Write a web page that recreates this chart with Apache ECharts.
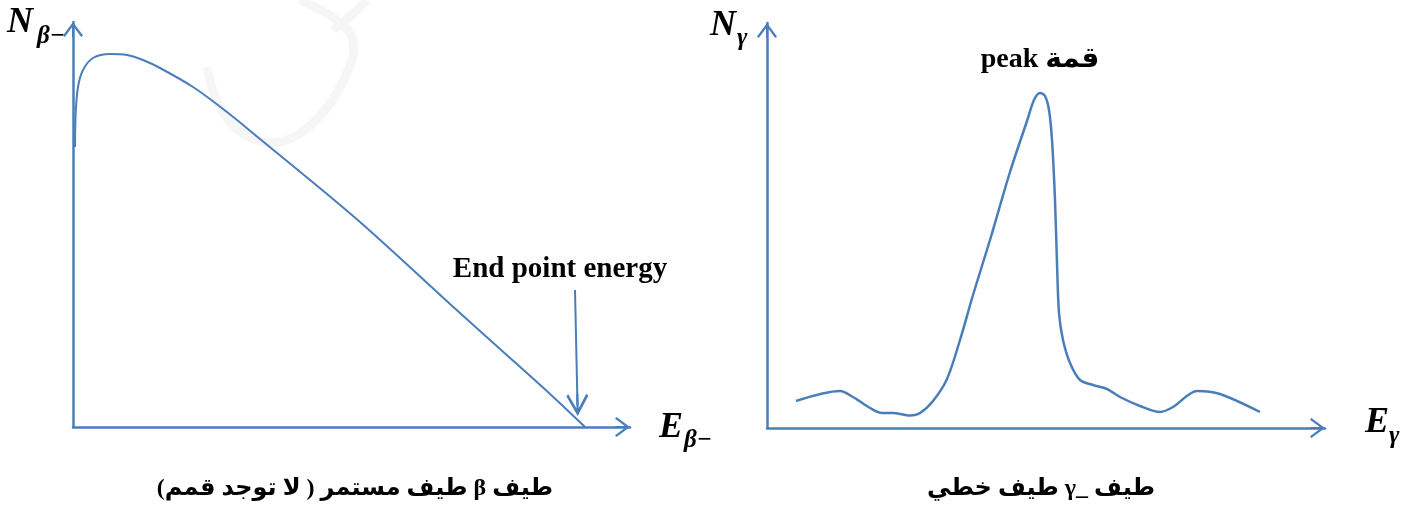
<!DOCTYPE html>
<html><head><meta charset="utf-8">
<script src="https://cdn.jsdelivr.net/npm/echarts@6/dist/echarts.min.js"></script>
<style>html,body{margin:0;padding:0;background:#fff}#c{width:1422px;height:511px}</style>
</head><body><div id="c"></div>
<script>
// Beta spectrum (relative units: energy axis spans 0..557, counts axis 0..405)
const betaEnergy = [2, 2.7, 5, 10, 20, 37, 54, 70, 87, 120, 154, 187, 220, 254, 287, 327, 377, 427, 477, 512];
const betaCounts = [280, 314, 340, 357, 369, 373, 372, 367, 359, 340, 315, 288, 261, 233, 205, 169, 123, 78, 33, 0];
// Gamma spectrum (relative units: energy axis spans 0..558, counts axis 0..405)
const gammaEnergy = [29, 73, 86, 103, 115, 126, 143, 153, 166, 180, 193, 206, 223, 243, 260, 267, 273, 278, 282, 285, 288, 290, 292, 296, 303, 313, 326, 340, 353, 373, 393, 406, 430, 453, 493];
const gammaCounts = [27, 37, 31, 20, 15, 15, 12.5, 15, 27, 49, 88, 133, 188, 256, 307, 328, 335, 332, 318, 288, 228, 165, 115, 88, 65, 48, 43, 39, 31, 22, 16, 21, 37, 34, 16];
// Axis extents
const betaAxisMax = [557, 405];
const gammaAxisMax = [558, 405];
// End-point annotation arrow (from, to) in beta data units
const endPointArrow = [[502, 137], [504.5, 22]];
// Texts
const betaCaption = 'طيف β طيف مستمر ( لا توجد قمم)';
const gammaCaption = 'طيف _γ طيف خطي';
const peakLabel = 'peak قمة';
const endPointLabel = 'End point energy';

const blue = '#4a7ebb';
const serif = '"Liberation Serif", "Times New Roman", "DejaVu Sans", serif';
const arrowPath = 'path://M10,0 L20,13.6 L18.2,15 L11,5.2 L11,15 L9,15 L9,5.2 L1.8,15 L0,13.6 Z';

function zip(a, b) { return a.map((v, i) => [v, b[i]]); }

function axis(gridIndex, max) {
  return {
    gridIndex, type: 'value', min: 0, max,
    axisLine: { show: true, onZero: false, symbol: ['none', arrowPath], symbolSize: [20, 15], symbolOffset: [0, -7.5],
      lineStyle: { color: blue, width: 2.5 } },
    axisTick: { show: false }, axisLabel: { show: false }, splitLine: { show: false }
  };
}

function wm(x1, y1, cpx1, cpy1, cpx2, cpy2, x2, y2) {
  return { type: 'bezierCurve', z: -10, silent: true,
    shape: { x1, y1, cpx1, cpy1, cpx2, cpy2, x2, y2 },
    style: { stroke: '#f6f6f6', lineWidth: 9, fill: null } };
}

const chart = echarts.init(document.getElementById('c'), null, { renderer: 'canvas' });
chart.setOption({
  animation: false,
  backgroundColor: '#fff',
  grid: [
    { left: 73, top: 22, width: 557, height: 405 },
    { left: 767, top: 23, width: 558, height: 405 }
  ],
  xAxis: [axis(0, betaAxisMax[0]), axis(1, gammaAxisMax[0])],
  yAxis: [axis(0, betaAxisMax[1]), axis(1, gammaAxisMax[1])],
  series: [
    {
      type: 'line', xAxisIndex: 0, yAxisIndex: 0, data: zip(betaEnergy, betaCounts),
      showSymbol: false, smooth: 0.3,
      lineStyle: { color: blue, width: 2 }, silent: true,
      markLine: {
        silent: true, symbol: ['none', arrowPath], symbolSize: 22,
        label: { show: false },
        lineStyle: { color: blue, width: 2, type: 'solid' },
        data: [[{ coord: endPointArrow[0] }, { coord: endPointArrow[1] }]]
      }
    },
    {
      type: 'line', xAxisIndex: 1, yAxisIndex: 1, data: zip(gammaEnergy, gammaCounts),
      showSymbol: false, smooth: 0.3,
      lineStyle: { color: blue, width: 2.5 }, silent: true
    }
  ],
  graphic: [
    wm(207, 67, 215, 110, 235, 140, 270, 143),
    wm(270, 143, 300, 143, 335, 110, 352, 60),
    wm(352, 60, 360, 35, 345, 20, 300, 0),
    wm(367, 0, 360, 10, 345, 20, 333, 30),
    { type: 'text', x: 7, y: 5, style: { text: 'N', font: 'italic bold 36px ' + serif, fill: '#000' } },
    { type: 'text', x: 37, y: 24, style: { text: 'β−', font: 'italic bold 25px ' + serif, fill: '#000' } },
    { type: 'text', x: 659, y: 410, style: { text: 'E', font: 'italic bold 36px ' + serif, fill: '#000' } },
    { type: 'text', x: 684, y: 428, style: { text: 'β−', font: 'italic bold 25px ' + serif, fill: '#000' } },
    { type: 'text', x: 710, y: 8, style: { text: 'N', font: 'italic bold 36px ' + serif, fill: '#000' } },
    { type: 'text', x: 737, y: 26, style: { text: 'γ', font: 'italic bold 25px ' + serif, fill: '#000' } },
    { type: 'text', x: 1365, y: 405, style: { text: 'E', font: 'italic bold 36px ' + serif, fill: '#000' } },
    { type: 'text', x: 1389, y: 424, style: { text: 'γ', font: 'italic bold 25px ' + serif, fill: '#000' } },
    { type: 'text', x: 560, y: 270, style: { text: endPointLabel, font: 'bold 29px ' + serif, fill: '#000', align: 'center', verticalAlign: 'middle' } },
    { type: 'text', x: 1040, y: 60, style: { text: peakLabel, font: 'bold 28px ' + serif, fill: '#000', align: 'center', verticalAlign: 'middle' } },
    { type: 'text', x: 355, y: 489, style: { text: '\u202B' + betaCaption + '\u202C', font: 'bold 24px ' + serif, fill: '#000', align: 'center', verticalAlign: 'middle' } },
    { type: 'text', x: 1041, y: 489, style: { text: '\u202B' + gammaCaption + '\u202C', font: 'bold 24px ' + serif, fill: '#000', align: 'center', verticalAlign: 'middle' } }
  ]
});
</script></body></html>
